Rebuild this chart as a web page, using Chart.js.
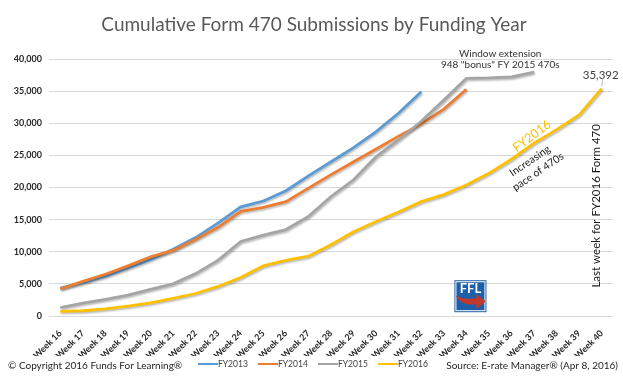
<!DOCTYPE html>
<html>
<head>
<meta charset="utf-8">
<script src="https://cdn.jsdelivr.net/npm/chart.js@4.4.1/dist/chart.umd.min.js"></script>
<style>
html,body{margin:0;padding:0;background:#fff;}
#wrap{width:623px;height:380px;position:relative;}
</style>
</head>
<body>
<div id="wrap"><canvas id="c"></canvas></div>
<script>
const weeks = ['Week 16','Week 17','Week 18','Week 19','Week 20','Week 21','Week 22','Week 23','Week 24','Week 25','Week 26','Week 27','Week 28','Week 29','Week 30','Week 31','Week 32','Week 33','Week 34','Week 35','Week 36','Week 37','Week 38','Week 39','Week 40'];
const seriesNames = ['FY2013','FY2014','FY2015','FY2016'];
const fy2013 = [4350,5200,6200,7500,8800,10400,12200,14500,17000,17900,19500,21800,24000,26200,28700,31600,34900];
const fy2014 = [4200,5400,6500,7800,9200,10200,11900,13800,16300,16900,17800,19900,22000,24000,26000,28000,29900,32200,35300];
const fy2015 = [1300,2000,2600,3250,4150,5000,6600,8700,11600,12600,13450,15500,18600,21200,24800,27400,30300,33600,37000,37050,37200,37950];
const fy2016 = [720,820,1120,1550,2050,2750,3500,4600,6000,7800,8650,9300,11100,13100,14700,16200,17800,18900,20400,22200,24400,26900,29000,31300,35392];
const yTicks = [0,5000,10000,15000,20000,25000,30000,35000,40000];

const colors = ['#5B9BD5','#ED7D31','#A5A5A5','#FFC000'];
const FONT = 'Lato, "Open Sans", sans-serif';

function ds(i, data){
  return {label: seriesNames[i], data: data, borderColor: colors[i], backgroundColor: colors[i],
    borderWidth: 2.8, pointRadius: 0, tension: 0, fill: false, order: 3 - i};
}

const shadowPlugin = {
  id: 'shadow',
  beforeDatasetDraw(chart){ const c = chart.ctx; c.save(); c.shadowColor='rgba(0,0,0,0.28)'; c.shadowBlur=2; c.shadowOffsetX=1; c.shadowOffsetY=1.5; },
  afterDatasetDraw(chart){ chart.ctx.restore(); }
};

const decorPlugin = {
  id: 'decor',
  afterDraw(chart){
    const c = chart.ctx, xs = chart.scales.x, ys = chart.scales.y;
    c.save();
    // title
    c.fillStyle = '#595959';
    c.font = '19px ' + FONT;
    c.textAlign = 'center'; c.textBaseline = 'middle';
    c.fillText('Cumulative Form 470 Submissions by Funding Year', 314, 25);

    // footer
    c.font = '10px ' + FONT;
    c.fillStyle = '#262626';
    c.textAlign = 'left';
    c.fillText('\u00A9 Copyright 2016 Funds For Learning\u00AE', 8, 366);
    c.textAlign = 'right';
    c.fillText('Source: E-rate Manager\u00AE (Apr 8, 2016)', 618, 366);

    // legend
    c.font = '8.5px ' + FONT;
    c.textAlign = 'left';
    chart.data.datasets.forEach((d, i) => {
      const x0 = 198 + i * 60;
      c.strokeStyle = d.borderColor; c.lineWidth = 2;
      c.beginPath(); c.moveTo(x0, 364); c.lineTo(x0 + 20, 364); c.stroke();
      c.fillStyle = '#404040';
      c.fillText(d.label, x0 + 20, 364);
    });

    // annotations
    c.textAlign = 'center';
    c.fillStyle = '#333333';
    c.font = '10px ' + FONT;
    c.fillText('Window extension', xs.getPixelForValue(19.5), ys.getPixelForValue(40800));
    c.fillText('948 "bonus" FY 2015 470s', xs.getPixelForValue(19.5), ys.getPixelForValue(39050));

    const lastX = xs.getPixelForValue(24), lastY = ys.getPixelForValue(fy2016[24]);
    c.fillStyle = '#404040';
    c.font = '11.5px ' + FONT;
    c.fillText(fy2016[24].toLocaleString('en-US'), lastX - 1, ys.getPixelForValue(37500));
    c.strokeStyle = '#BFBFBF'; c.lineWidth = 1;
    c.beginPath(); c.moveTo(lastX + 1, ys.getPixelForValue(37000)); c.lineTo(lastX, lastY - 2); c.stroke();

    function rot(text, xi, yv, ang, font, color){
      c.save();
      c.translate(xs.getPixelForValue(xi), ys.getPixelForValue(yv));
      c.rotate(ang * Math.PI / 180);
      c.font = font; c.fillStyle = color; c.textAlign = 'center'; c.textBaseline = 'middle';
      c.fillText(text, 0, 0);
      c.restore();
    }
    rot('FY2016', 20.9, 28000, -37, '12.5px ' + FONT, '#FFC000');
    rot('Increasing', 20.82, 24150, -34, '10.5px ' + FONT, '#1a1a1a');
    rot('pace of 470s', 21.18, 22450, -34, '10.5px ' + FONT, '#1a1a1a');
    rot('Last week for FY2016 Form 470', 23.76, 17150, -90, '11.5px ' + FONT, '#1a1a1a');

    // FFL logo
    const lx = xs.getPixelForValue(18.18) - 16, ly = ys.getPixelForValue(3080) - 16;
    c.fillStyle = '#1F5FAA';
    c.fillRect(lx, ly, 32, 32);
    c.strokeStyle = '#ffffff'; c.lineWidth = 1; c.strokeRect(lx + 1.5, ly + 1.5, 29, 29);
    c.fillStyle = '#ffffff';
    c.font = 'bold 13px ' + FONT;
    c.textAlign = 'center'; c.textBaseline = 'top';
    c.fillText('FFL', lx + 16, ly + 2);
    c.fillStyle = '#C0392B';
    c.beginPath();
    c.moveTo(lx + 1, ly + 15);
    c.quadraticCurveTo(lx + 6, ly + 26, lx + 22, ly + 24);
    c.lineTo(lx + 22, ly + 29);
    c.lineTo(lx + 31, ly + 21);
    c.lineTo(lx + 22, ly + 14);
    c.lineTo(lx + 22, ly + 18);
    c.quadraticCurveTo(lx + 8, ly + 20, lx + 1, ly + 15);
    c.closePath();
    c.fill();
    c.restore();
  }
};

new Chart(document.getElementById('c'), {
  type: 'line',
  data: {
    labels: weeks,
    datasets: [ds(0, fy2013), ds(1, fy2014), ds(2, fy2015), ds(3, fy2016)]
  },
  options: {
    responsive: true,
    maintainAspectRatio: false,
    animation: false,
    layout: {padding: {top: 59, left: 0, right: 10, bottom: 24}},
    plugins: {legend: {display: false}, title: {display: false}, tooltip: {enabled: false}},
    scales: {
      x: {
        offset: true,
        grid: {display: false},
        border: {display: false},
        ticks: {autoSkip: false, minRotation: 45, maxRotation: 45, padding: 4,
          font: {family: FONT, size: 9, weight: 'bold'}, color: '#262626'},
        afterFit(s){ s.height = 40; }
      },
      y: {
        min: 0, max: 40000,
        grid: {color: '#D9D9D9', drawTicks: false, lineWidth: 1},
        border: {display: false},
        afterBuildTicks(s){ s.ticks = yTicks.map(v => ({value: v})); },
        ticks: {padding: 7, font: {family: FONT, size: 9, weight: 'bold'}, color: '#262626',
          callback: v => v.toLocaleString('en-US')},
        afterFit(s){ s.width = 49; }
      }
    }
  },
  plugins: [shadowPlugin, decorPlugin]
});
</script>
</body>
</html>
